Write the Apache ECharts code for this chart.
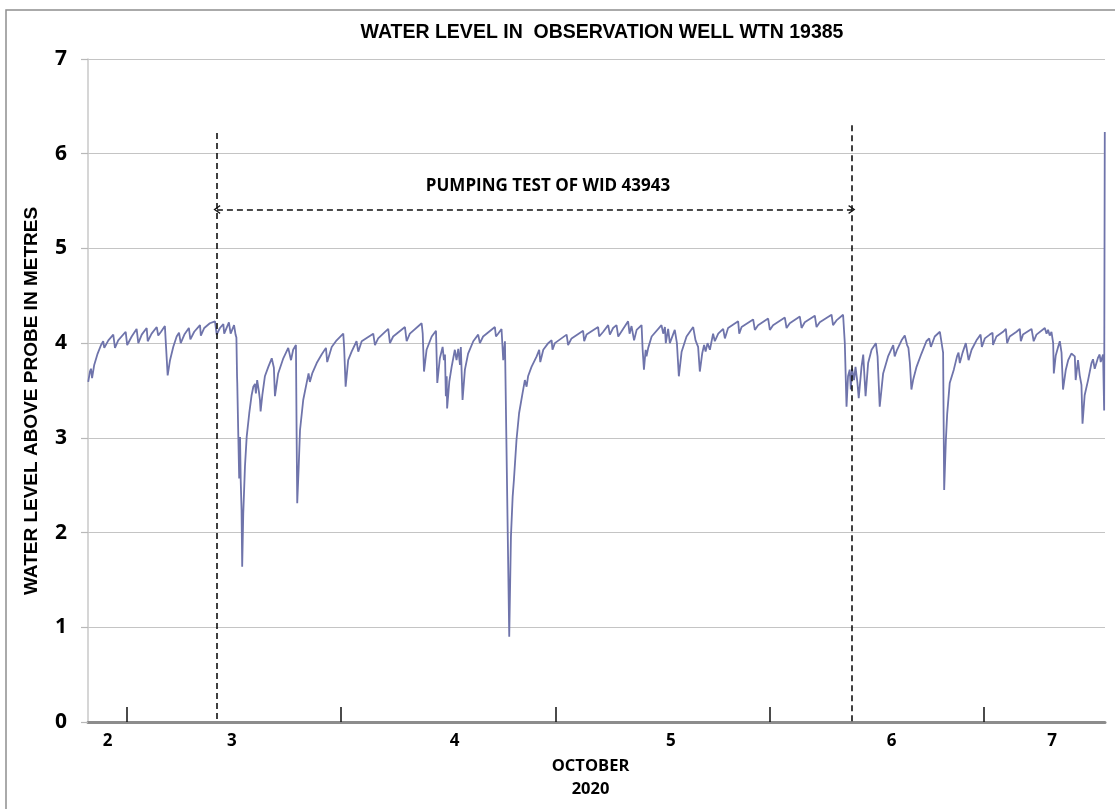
<!DOCTYPE html>
<html>
<head>
<meta charset="utf-8">
<title>Water level in observation well WTN 19385</title>
<script src="https://cdn.jsdelivr.net/npm/echarts@6/dist/echarts.min.js"></script>
<style>
  html, body {margin: 0; padding: 0; background: #fff;}
  #chart {width: 1115px; height: 809px;}
</style>
</head>
<body>
<div id="chart"></div>
<script>
// time as day of October 2020 (decimal), water level in metres above probe
const days = [
  2.819, 2.827, 2.832, 2.837, 2.847, 2.863, 2.879, 2.889, 2.894, 2.913,
  2.936, 2.944, 2.959, 2.994, 3.001, 3.022, 3.045, 3.053, 3.069, 3.092,
  3.097, 3.115, 3.139, 3.146, 3.159, 3.177, 3.190, 3.201, 3.216, 3.232,
  3.243, 3.251, 3.268, 3.289, 3.296, 3.314, 3.341, 3.345, 3.361, 3.387,
  3.411, 3.419, 3.434, 3.450, 3.454, 3.476, 3.484, 3.500, 3.507, 3.511,
  3.514, 3.515, 3.520, 3.524, 3.528, 3.531, 3.535, 3.538, 3.543, 3.551,
  3.559, 3.571, 3.582, 3.590, 3.598, 3.602, 3.608, 3.616, 3.621, 3.624,
  3.632, 3.644, 3.660, 3.676, 3.680, 3.686, 3.691, 3.706, 3.730, 3.753,
  3.761, 3.766, 3.776, 3.789, 3.792, 3.795, 3.802, 3.808, 3.823, 3.839,
  3.848, 3.854, 3.865, 3.886, 3.909, 3.929, 3.935, 3.956, 3.979, 4.010,
  4.014, 4.021, 4.033, 4.049, 4.072, 4.080, 4.096, 4.150, 4.158, 4.173,
  4.220, 4.228, 4.243, 4.298, 4.306, 4.321, 4.376, 4.381, 4.387, 4.399,
  4.423, 4.443, 4.449, 4.461, 4.474, 4.480, 4.485, 4.489, 4.493, 4.495,
  4.505, 4.516, 4.531, 4.539, 4.547, 4.555, 4.559, 4.567, 4.578, 4.593,
  4.617, 4.640, 4.648, 4.663, 4.718, 4.723, 4.733, 4.749, 4.757, 4.765,
  4.773, 4.785, 4.793, 4.801, 4.807, 4.819, 4.831, 4.847, 4.858, 4.866,
  4.873, 4.889, 4.913, 4.925, 4.930, 4.944, 4.967, 4.983, 4.987, 4.998,
  5.053, 5.060, 5.076, 5.130, 5.135, 5.146, 5.200, 5.205, 5.224, 5.247,
  5.255, 5.270, 5.286, 5.294, 5.340, 5.347, 5.356, 5.364, 5.368, 5.380,
  5.403, 5.408, 5.414, 5.422, 5.426, 5.434, 5.450, 5.496, 5.504, 5.512,
  5.516, 5.527, 5.535, 5.558, 5.568, 5.577, 5.590, 5.613, 5.644, 5.655,
  5.667, 5.675, 5.686, 5.695, 5.702, 5.711, 5.722, 5.737, 5.745, 5.761,
  5.784, 5.792, 5.807, 5.854, 5.859, 5.870, 5.924, 5.932, 5.947, 5.994,
  6.002, 6.017, 6.072, 6.080, 6.095, 6.142, 6.150, 6.165, 6.212, 6.220,
  6.235, 6.290, 6.297, 6.313, 6.344, 6.352, 6.360, 6.367, 6.375, 6.380,
  6.386, 6.395, 6.402, 6.411, 6.417, 6.430, 6.438, 6.449, 6.461, 6.477,
  6.497, 6.505, 6.515, 6.531, 6.554, 6.578, 6.585, 6.596, 6.617, 6.632,
  6.643, 6.649, 6.656, 6.663, 6.671, 6.687, 6.710, 6.733, 6.746, 6.754,
  6.772, 6.796, 6.805, 6.811, 6.816, 6.824, 6.830, 6.842, 6.861, 6.876,
  6.883, 6.889, 6.902, 6.917, 6.925, 6.930, 6.944, 6.967, 6.986, 6.992,
  7.006, 7.029, 7.042, 7.044, 7.060, 7.091, 7.104, 7.110, 7.122, 7.154,
  7.169, 7.174, 7.184, 7.224, 7.234, 7.247, 7.286, 7.294, 7.301, 7.309,
  7.317, 7.325, 7.328, 7.337, 7.348, 7.356, 7.364, 7.371, 7.384, 7.395,
  7.410, 7.418, 7.426, 7.430, 7.441, 7.449, 7.457, 7.462, 7.472, 7.488,
  7.504, 7.511, 7.519, 7.535, 7.542, 7.547, 7.558, 7.563, 7.566
];
const level = [
  3.59, 3.70, 3.73, 3.63, 3.77, 3.89, 3.98, 4.02, 3.95, 4.03,
  4.09, 3.95, 4.03, 4.12, 3.98, 4.07, 4.15, 4.00, 4.09, 4.16,
  4.02, 4.10, 4.17, 4.08, 4.12, 4.18, 3.66, 3.82, 3.96, 4.07,
  4.11, 4.00, 4.09, 4.16, 4.04, 4.12, 4.19, 4.08, 4.16, 4.21,
  4.23, 4.09, 4.16, 4.20, 4.10, 4.22, 4.10, 4.19, 4.09, 4.06,
  3.65, 3.58, 3.01, 2.57, 3.01, 2.56, 2.24, 1.64, 2.20, 2.70,
  3.01, 3.26, 3.45, 3.54, 3.57, 3.47, 3.61, 3.49, 3.40, 3.28,
  3.45, 3.65, 3.75, 3.84, 3.86, 3.74, 3.44, 3.68, 3.84, 3.95,
  3.96, 3.82, 3.93, 3.98, 3.08, 2.31, 2.70, 3.08, 3.40, 3.58,
  3.68, 3.59, 3.68, 3.79, 3.88, 3.95, 3.80, 3.96, 4.03, 4.10,
  3.96, 3.54, 3.82, 3.91, 4.02, 3.91, 4.02, 4.10, 3.98, 4.05,
  4.15, 4.00, 4.07, 4.17, 4.02, 4.10, 4.21, 4.10, 3.70, 3.93,
  4.07, 4.13, 3.58, 3.84, 3.96, 3.82, 3.88, 3.44, 3.65, 3.31,
  3.59, 3.75, 3.93, 3.82, 3.94, 3.77, 3.96, 3.40, 3.72, 3.89,
  4.02, 4.09, 4.00, 4.07, 4.17, 4.07, 4.10, 4.15, 3.82, 4.02,
  4.03, 0.90, 1.96, 2.38, 2.56, 2.98, 3.26, 3.47, 3.61, 3.54,
  3.65, 3.75, 3.86, 3.93, 3.80, 3.93, 4.00, 4.03, 3.93, 4.00,
  4.09, 3.98, 4.05, 4.13, 4.02, 4.09, 4.17, 4.07, 4.12, 4.19,
  4.09, 4.16, 4.19, 4.07, 4.23, 4.10, 4.18, 4.19, 4.03, 4.14,
  4.19, 3.93, 3.72, 3.93, 3.86, 3.95, 4.07, 4.19, 4.10, 4.17,
  4.00, 4.15, 4.00, 4.14, 4.00, 3.65, 3.91, 4.07, 4.17, 4.03,
  3.96, 3.70, 3.89, 3.98, 3.91, 4.00, 3.93, 4.10, 4.02, 4.10,
  4.15, 4.05, 4.16, 4.23, 4.10, 4.17, 4.25, 4.14, 4.19, 4.26,
  4.14, 4.19, 4.27, 4.16, 4.21, 4.28, 4.16, 4.22, 4.29, 4.17,
  4.22, 4.30, 4.19, 4.24, 4.30, 4.00, 3.33, 3.65, 3.72, 3.51,
  3.73, 3.61, 3.75, 3.58, 3.42, 3.75, 3.88, 3.44, 3.79, 3.93,
  4.00, 3.86, 3.33, 3.68, 3.86, 3.98, 3.86, 3.93, 4.03, 4.08,
  3.98, 3.95, 3.79, 3.51, 3.61, 3.75, 3.89, 4.02, 4.05, 3.96,
  4.07, 4.12, 4.10, 3.90, 2.45, 2.98, 3.25, 3.58, 3.72, 3.86,
  3.90, 3.79, 3.90, 4.00, 4.02, 3.82, 3.93, 4.03, 4.09, 3.96,
  4.05, 4.09, 4.11, 3.98, 4.07, 4.12, 4.15, 4.00, 4.07, 4.12,
  4.15, 4.02, 4.09, 4.15, 4.02, 4.09, 4.16, 4.10, 4.14, 4.08,
  4.12, 4.00, 3.68, 3.87, 3.96, 4.02, 3.90, 3.51, 3.72, 3.82,
  3.89, 3.91, 3.86, 3.61, 3.82, 3.66, 3.56, 3.15, 3.45, 3.61,
  3.79, 3.83, 3.73, 3.85, 3.88, 3.80, 3.88, 3.29, 6.23
];

// axis: midnights get a tick, day numbers sit in the middle of each visible day
const dayTicks = [3, 4, 5, 6, 7];
const dayLabelAt = [2.91, 3.49, 4.53, 5.54, 6.57, 7.32];
const dayLabels = ['2', '3', '4', '5', '6', '7'];
const levelTicks = [0, 1, 2, 3, 4, 5, 6, 7];

// pumping test of WID 43943
const pumpStart = 3.42;
const pumpEnd = 6.385;
const pumpLineTop = [6.22, 6.30];
const pumpArrowLevel = 5.41;
const pumpLabelAt = [4.966, 5.66];

const chevron = 'path://M0,10 L5,0 L10,10 L8.6,10.8 L5,3.2 L1.4,10.8 Z';
const dash = {color: '#111', width: 1.6, type: [6, 4]};

const chart = echarts.init(document.getElementById('chart'), null, {renderer: 'canvas'});

chart.setOption({
  animation: false,
  backgroundColor: '#fff',
  grid: {left: 88, right: 10, top: 59, bottom: 87},
  graphic: [
    {
      type: 'rect',
      shape: {x: 6, y: 10, width: 1300, height: 1000},
      style: {fill: 'none', stroke: '#8f8f8f', lineWidth: 1.5},
      silent: true
    },
    {
      type: 'text',
      x: 602,
      y: 33,
      style: {
        text: 'WATER LEVEL IN  OBSERVATION WELL WTN 19385',
        fontFamily: 'Liberation Sans',
        fontWeight: 'bold',
        fontSize: 19.5,
        fill: '#000',
        align: 'center',
        verticalAlign: 'middle'
      }
    },
    {
      // y axis title, placed by hand so it sits where the original does
      type: 'text',
      x: 32,
      y: 401,
      rotation: Math.PI / 2,
      style: {
        text: 'WATER LEVEL ABOVE PROBE IN METRES',
        fontFamily: 'Liberation Sans',
        fontWeight: 'bold',
        fontSize: 19,
        fill: '#000',
        align: 'center',
        verticalAlign: 'middle'
      }
    }
  ],
  xAxis: {
    type: 'value',
    min: 2.818,
    max: 7.567,
    name: 'OCTOBER\n2020',
    nameLocation: 'middle',
    nameGap: 33,
    nameTextStyle: {
      fontFamily: 'Open Sans', fontWeight: 'bold', fontSize: 16.5,
      lineHeight: 23, color: '#000', padding: [0, 12, 0, 0]
    },
    axisLine: {show: true, lineStyle: {color: '#8c8c8c', width: 3}},
    axisTick: {
      show: true, inside: true, length: 15,
      customValues: dayTicks,
      lineStyle: {color: '#111', width: 1.5}
    },
    axisLabel: {
      customValues: dayLabelAt,
      formatter: v => dayLabels[dayLabelAt.indexOf(v)],
      fontFamily: 'Open Sans', fontWeight: 'bold', fontSize: 17,
      color: '#000', margin: 11
    },
    splitLine: {show: false}
  },
  yAxis: {
    type: 'value',
    min: 0,
    max: 7,
    interval: 1,
    axisLine: {show: true, lineStyle: {color: '#c8c8c8', width: 1.5}},
    axisTick: {show: true, length: 7, lineStyle: {color: '#b8b8b8', width: 1.2}},
    axisLabel: {
      customValues: levelTicks,
      fontFamily: 'Open Sans', fontWeight: 'bold', fontSize: 21,
      color: '#000', margin: 21
    },
    splitLine: {show: true, lineStyle: {color: '#c4c4c4', width: 1.2}}
  },
  series: [{
    type: 'line',
    data: days.map((d, i) => [d, level[i]]),
    showSymbol: false,
    symbol: 'none',
    sampling: null,
    lineStyle: {color: '#6f74ab', width: 1.8},
    z: 3,
    markLine: {
      silent: true,
      symbol: ['none', 'none'],
      label: {show: false},
      lineStyle: dash,
      data: [
        [{coord: [pumpStart, pumpLineTop[0]]}, {coord: [pumpStart, 0]}],
        [{coord: [pumpEnd, pumpLineTop[1]]}, {coord: [pumpEnd, 0]}],
        [
          {coord: [pumpStart, pumpArrowLevel], symbol: chevron, symbolSize: [9, 7]},
          {coord: [pumpEnd, pumpArrowLevel], symbol: chevron, symbolSize: [9, 7]}
        ]
      ]
    },
    markPoint: {
      silent: true,
      symbol: 'circle',
      symbolSize: 0,
      label: {
        show: true,
        position: 'inside',
        formatter: '{b}',
        fontFamily: 'Open Sans', fontWeight: 'bold', fontSize: 17, color: '#000'
      },
      data: [{name: 'PUMPING TEST OF WID 43943', coord: pumpLabelAt}]
    }
  }]
});
</script>
</body>
</html>
